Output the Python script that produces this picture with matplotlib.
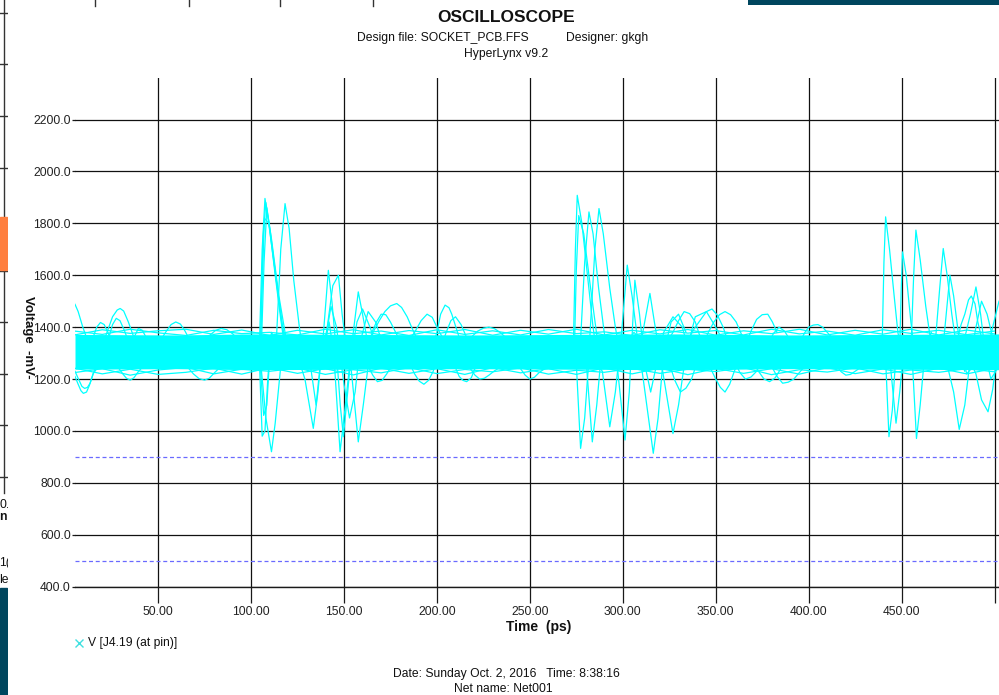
import matplotlib
matplotlib.use("Agg")
import matplotlib.pyplot as plt
from matplotlib.patches import Rectangle

plt.rcParams['font.family'] = ['Liberation Sans', 'DejaVu Sans']

# ---------------- data (time in ps, voltage in mV) ----------------
x_ticks = [50, 100, 150, 200, 250, 300, 350, 400, 450, 500]
x_tick_labels = ["50.00", "100.00", "150.00", "200.00", "250.00", "300.00",
                 "350.00", "400.00", "450.00", ""]
y_ticks = [400, 600, 800, 1000, 1200, 1400, 1600, 1800, 2000, 2200]
y_tick_labels = ["400.0", "600.0", "800.0", "1000.0", "1200.0", "1400.0",
                 "1600.0", "1800.0", "2000.0", "2200.0"]
threshold_levels = [900, 500]

# dense overlay of settled waveforms
band_t = [5.3, 60, 100, 160, 220, 270, 330, 390, 440, 502.4]
band_hi = [1372, 1370, 1374, 1372, 1370, 1372, 1374, 1370, 1372, 1374]
band_lo = [1238, 1240, 1236, 1238, 1240, 1238, 1236, 1240, 1238, 1236]

edge_t = [5, 20, 35, 50, 65, 80, 95, 110, 125, 140, 155, 170, 185, 200, 215, 230, 245,
          260, 275, 290, 305, 320, 335, 350, 365, 380, 395, 410, 425, 440, 455, 470, 485, 500]
edge_top_a = [1385, 1372, 1392, 1378, 1368, 1388, 1375, 1380, 1370, 1392, 1375, 1385, 1368,
              1390, 1372, 1386, 1370, 1391, 1375, 1382, 1368, 1390, 1377, 1387, 1370, 1392,
              1374, 1385, 1369, 1390, 1376, 1388, 1371, 1385]
edge_top_b = [1370, 1390, 1376, 1386, 1392, 1372, 1389, 1368, 1388, 1374, 1390, 1370, 1387,
              1375, 1391, 1369, 1388, 1373, 1392, 1370, 1388, 1374, 1391, 1369, 1386, 1375,
              1392, 1370, 1388, 1373, 1392, 1370, 1389, 1374]
edge_bot_a = [1225, 1240, 1215, 1235, 1245, 1220, 1238, 1230, 1242, 1218, 1236, 1224, 1244,
              1221, 1237, 1228, 1243, 1219, 1234, 1226, 1241, 1222, 1238, 1229, 1244, 1217,
              1236, 1227, 1243, 1220, 1235, 1226, 1240, 1228]
edge_bot_b = [1242, 1220, 1238, 1218, 1226, 1242, 1219, 1244, 1222, 1240, 1216, 1242, 1222,
              1240, 1218, 1244, 1224, 1240, 1218, 1243, 1220, 1242, 1217, 1241, 1222, 1240,
              1219, 1244, 1221, 1239, 1218, 1242, 1220, 1241]

start_traces = [
    [(5.3, 1488), (7, 1460), (9.5, 1400), (12, 1350), (15, 1320)],
    [(12, 1320), (15, 1360), (17, 1400), (19, 1418), (21, 1410), (23, 1380), (25, 1340), (28, 1300)],
    [(20, 1330), (23, 1390), (25.5, 1440), (28, 1466), (29.6, 1472), (31.5, 1462), (34, 1420),
     (36, 1380), (38, 1340)],
    [(21, 1300), (23.5, 1360), (25.5, 1410), (27.5, 1434), (29.5, 1425), (32, 1385), (34, 1345),
     (36, 1310)],
    [(35, 1320), (37, 1360), (39.4, 1395), (41.5, 1388), (44, 1355), (47, 1330), (51, 1345),
     (54, 1380), (57, 1410), (59.5, 1420), (62, 1412), (64.5, 1385), (67, 1350), (70, 1320)],
    [(5.3, 1210), (7, 1180), (8.5, 1155), (9.8, 1145), (11.5, 1150), (13, 1175), (15, 1220),
     (18, 1250)],
    [(5.3, 1230), (7.5, 1195), (9, 1172), (10.5, 1164), (12, 1168), (13.5, 1185), (16, 1240)],
    [(28, 1250), (31, 1220), (33, 1203), (35, 1196), (37, 1205), (39, 1225), (42, 1250)],
    [(66, 1245), (69, 1220), (72, 1202), (75, 1196), (77.5, 1203), (80, 1222), (84, 1250)],
    [(75, 1340), (78, 1370), (81, 1388), (84, 1395), (87, 1390), (90, 1375), (95, 1340)],
]

event1_traces = [
    [(100, 1310), (104.5, 1330), (106, 1700), (107.5, 1896), (110, 1780), (113, 1600),
     (116, 1430), (118, 1330), (121, 1250), (125, 1290)],
    [(100, 1280), (105, 1300), (106.5, 1750), (108, 1880), (110.5, 1760), (114, 1560),
     (117, 1400), (120, 1300)],
    [(102, 1290), (105.5, 1310), (107, 1650), (108.5, 1860), (111, 1740), (115, 1520),
     (119, 1350), (123, 1260)],
    [(101, 1300), (105, 1320), (106.2, 1600), (107.2, 1820), (109.5, 1800), (112.5, 1640),
     (116.5, 1420), (119.5, 1300)],
    [(110, 1300), (113.5, 1330), (116, 1700), (118.3, 1876), (120.5, 1780), (123, 1580),
     (126, 1400), (128, 1300), (131, 1250)],
    [(100, 1290), (104.5, 1270), (106, 980), (107.5, 1000), (109, 1200), (111, 1380),
     (113, 1350), (116, 1250)],
    [(103, 1260), (105.5, 1240), (108, 1050), (111, 920), (113, 1030), (116, 1250), (118, 1350)],
    [(101, 1280), (105, 1250), (106.8, 1060), (108.5, 1100), (110, 1280)],
    [(125, 1290), (129, 1200), (133.5, 1010), (136, 1150), (139, 1380), (141.6, 1619),
     (143.5, 1500), (146, 1300), (148, 1100), (149.7, 978), (152, 1150), (155, 1380),
     (157.7, 1536), (160, 1450), (163, 1330)],
    [(128, 1320), (132, 1250), (135, 1100), (137, 1240), (141, 1400), (144, 1560),
     (147, 1600), (149, 1450), (152, 1280), (154, 1230), (157.7, 958), (160.5, 1106),
     (163, 1250), (166, 1330)],
    [(130, 1280), (135, 1240), (139, 1300), (142, 1420), (144.5, 1300), (147.9, 920),
     (150, 1050), (153, 1250), (157, 1420), (160, 1470), (164, 1400), (168, 1320)],
    [(136, 1310), (140, 1350), (143, 1480), (146, 1400), (150, 1180), (153, 1050),
     (156, 1150), (159, 1350), (163, 1460), (167, 1420), (171, 1330)],
]

event1_tail_traces = [
    [(160, 1330), (163, 1350), (166, 1385), (169, 1425), (172, 1460), (175, 1482),
     (178.4, 1491), (181, 1476), (184, 1440), (187, 1390), (190, 1345), (193, 1315),
     (196, 1305), (198, 1330), (200, 1380), (202, 1450), (204.4, 1485), (206.5, 1475),
     (208, 1450), (210, 1405), (212, 1360), (216, 1320)],
    [(163, 1250), (165.5, 1215), (168, 1190), (170.5, 1195), (173, 1220), (176.5, 1260),
     (180, 1300), (184, 1340), (188, 1380), (191.5, 1425), (194.7, 1450), (197.5, 1438),
     (200, 1400), (203, 1360), (206, 1320), (209, 1260), (212, 1210), (214, 1195),
     (216, 1190), (218.5, 1205), (221, 1250)],
    [(165, 1380), (167.5, 1420), (170, 1450), (172.5, 1448), (175, 1420), (178.5, 1370),
     (182, 1320), (185, 1265), (188, 1220), (190.5, 1192), (193, 1180), (195.5, 1195),
     (198, 1230), (201.5, 1310), (205, 1380), (207.5, 1425), (210, 1440), (213, 1410),
     (216, 1360)],
]

quiet_traces = [
    [(215, 1330), (219, 1365), (222, 1385), (225, 1396), (228, 1400), (231, 1394),
     (234, 1380), (237, 1360), (240, 1340)],
    [(218, 1240), (220.5, 1215), (223, 1200), (225.5, 1203), (228, 1215), (231, 1232),
     (234, 1245)],
    [(245, 1240), (247.5, 1215), (250, 1200), (252.5, 1207), (255, 1225), (260, 1250)],
    [(395, 1340), (398, 1380), (400, 1400), (402.5, 1408), (405, 1410), (407.5, 1400),
     (410, 1380), (415, 1340)],
    [(380, 1250), (383, 1210), (386, 1184), (389, 1188), (392, 1200), (395, 1225), (398, 1250)],
    [(415, 1250), (417.5, 1228), (420, 1215), (422.5, 1218), (425, 1230), (430, 1255)],
]

event2_traces = [
    [(268, 1300), (273.4, 1320), (274.5, 1700), (275.5, 1908), (278, 1800), (281, 1600),
     (284, 1400), (287, 1250), (291, 1290)],
    [(272, 1290), (277, 1310), (279.5, 1650), (281.8, 1844), (284, 1760), (287, 1550),
     (290, 1380), (293, 1280)],
    [(276, 1300), (282, 1330), (285, 1700), (287.2, 1857), (289.5, 1760), (293, 1550),
     (296, 1400), (298.5, 1300), (302, 1250)],
    [(271, 1300), (274, 1320), (275, 1620), (276.3, 1830), (279, 1760), (282.5, 1560),
     (286, 1370), (289, 1280)],
    [(270, 1280), (275, 1260), (277.3, 933), (279.5, 1050), (282, 1300), (285, 1350)],
    [(276, 1290), (280.5, 1250), (283.6, 958), (286, 1100), (288.5, 1300)],
    [(284, 1280), (289, 1230), (293, 1016), (296, 1150), (299, 1350), (302.4, 1639),
     (305, 1520), (308, 1350), (311, 1200), (316.4, 914), (319, 1050), (322, 1300),
     (326, 1420), (330, 1450), (334, 1380)],
    [(290, 1300), (297, 1250), (301.2, 965), (303.5, 1150), (306.5, 1581), (309, 1450),
     (312, 1250), (315, 1150), (318, 1250), (322, 1380), (327, 1440), (332, 1400), (336, 1300)],
    [(300, 1320), (306, 1380), (310, 1350), (314.6, 1530), (317, 1420), (321, 1250),
     (327, 990), (330, 1100), (334, 1300), (339, 1440), (345, 1460), (350, 1400), (356, 1320)],
]

event2_tail_traces = [
    [(320, 1300), (323.5, 1340), (327, 1380), (330, 1425), (333, 1460), (336, 1452),
     (339, 1420), (341.5, 1365), (344, 1300), (347, 1245), (350, 1200), (352.5, 1168),
     (355, 1150), (357.5, 1180), (360, 1230), (363, 1280), (366, 1330), (369, 1385),
     (372, 1430), (375, 1448), (378, 1450), (380.5, 1420), (383, 1380)],
    [(325, 1260), (328, 1195), (331, 1150), (334, 1165), (337, 1200), (340, 1265),
     (343, 1330), (346, 1380), (349, 1420), (352, 1448), (355, 1460), (358, 1448),
     (361, 1420), (364, 1370), (367, 1320), (370, 1270), (373, 1230), (376, 1200),
     (379, 1190), (382, 1205), (385, 1240)],
    [(335, 1350), (338.5, 1395), (342, 1430), (345, 1460), (348, 1470), (351, 1445),
     (354, 1400), (357, 1335), (360, 1270), (363, 1225), (366, 1200), (369, 1208),
     (372, 1230), (375, 1280), (378, 1330), (381, 1375), (384, 1400), (387, 1385), (390, 1350)],
]

event3_traces = [
    [(435, 1300), (439.5, 1320), (440.5, 1650), (441.4, 1825), (443.5, 1700), (446, 1520),
     (448, 1380), (451, 1270), (455, 1300)],
    [(444, 1300), (449, 1320), (449.8, 1550), (450.5, 1690), (452.5, 1600), (455, 1420),
     (457, 1300), (461, 1240)],
    [(450, 1290), (455, 1310), (456.5, 1600), (457.7, 1774), (460, 1660), (463, 1480),
     (466, 1330), (470, 1250)],
    [(462, 1300), (468, 1330), (470.5, 1550), (472.4, 1703), (474.5, 1600), (477, 1450),
     (480, 1300), (484, 1230)],
    [(466, 1290), (472, 1300), (474, 1450), (476, 1600), (478, 1520), (481, 1350),
     (485, 1220), (490, 1260)],
    [(478, 1280), (483, 1330), (487, 1450), (490, 1555), (492.5, 1450), (495, 1300),
     (498, 1200), (502.4, 1250)],
    [(437, 1290), (441.5, 1260), (443.2, 978), (445, 1080), (447, 1300), (450, 1350)],
    [(440, 1280), (444, 1250), (447, 1030), (449, 1150), (451, 1300)],
    [(452, 1290), (456, 1240), (458, 971), (460, 1100), (462.5, 1300), (466, 1380)],
    [(470, 1300), (475, 1240), (478, 1150), (481, 1006), (484, 1100), (487, 1280),
     (490, 1400), (493, 1500), (496, 1450), (500, 1330), (502.4, 1300)],
    [(485, 1300), (490, 1220), (493, 1120), (496.5, 1074), (499, 1160), (502.4, 1350)],
    [(480, 1350), (482, 1410), (484, 1450), (486, 1505), (487.5, 1520), (489.5, 1490),
     (491, 1420), (495, 1300), (497, 1340), (499, 1400), (502.4, 1500)],
]

# ---------------- figure ----------------
W, H = 999, 695
fig = plt.figure(figsize=(W / 100, H / 100), dpi=100)
fig.patch.set_facecolor("white")


def fx(x):
    return x / W


def fy(y):
    return 1 - y / H


TRACE = "#00FFFF"
INK = "#1a1a1a"

ax = fig.add_axes([fx(75), fy(586.7), fx(999) - fx(75), fy(78) - fy(586.7)])
ax.set_xlim(5.3, 502.4)
ax.set_ylim(400, 2360)
for side in ("top", "right", "left"):
    ax.spines[side].set_visible(False)
ax.spines["bottom"].set_color(INK)
ax.spines["bottom"].set_linewidth(1.0)

ax.set_xticks(x_ticks)
ax.set_xticklabels(x_tick_labels)
ax.set_yticks(y_ticks)
ax.set_yticklabels(y_tick_labels)
ax.tick_params(axis="x", length=11.5, width=0.9, color=INK, pad=2.5,
               labelsize=8.7, labelcolor="#222222")
ax.tick_params(axis="y", length=2.2, width=0.9, color=INK, pad=0.8,
               labelsize=8.7, labelcolor="#222222")
ax.grid(True, color="#111111", linewidth=0.9)
ax.set_axisbelow(True)

for lvl in threshold_levels:
    ax.axhline(lvl, color="#6a6aff", linewidth=0.9, linestyle=(0, (3.2, 2.2)), zorder=1)

ax.fill_between(band_t, band_lo, band_hi, color=TRACE, linewidth=0, zorder=2)
for edge in (edge_top_a, edge_top_b, edge_bot_a, edge_bot_b):
    ax.plot(edge_t, edge, color=TRACE, linewidth=0.9, zorder=2)

for group in (start_traces, event1_traces, event1_tail_traces, quiet_traces,
              event2_traces, event2_tail_traces, event3_traces):
    for trace in group:
        t, v = zip(*trace)
        ax.plot(t, v, color=TRACE, linewidth=0.9, zorder=3)

# axis titles
fig.text(fx(539), fy(627), "Time  (ps)", ha="center", va="center",
         fontsize=10, fontweight="bold", color="#111111")
fig.text(fx(28), fy(337), "Voltage  -mV-", ha="center", va="center", rotation=270,
         fontsize=9.5, fontweight="bold", color="#111111")

# header
fig.text(fx(506), fy(18), "OSCILLOSCOPE", ha="center", va="center",
         fontsize=12.5, fontweight="bold", color="#111111")
fig.text(fx(357), fy(38), "Design file: SOCKET_PCB.FFS", ha="left", va="center",
         fontsize=8.7, color="#111111")
fig.text(fx(566), fy(38), "Designer: gkgh", ha="left", va="center",
         fontsize=8.7, color="#111111")
fig.text(fx(506), fy(54), "HyperLynx v9.2", ha="center", va="center",
         fontsize=8.7, color="#111111")

# legend entry
fig.lines.append(plt.Line2D([fx(79)], [fy(643)], marker="x", markersize=5.5,
                            markeredgewidth=1.0, color="#40e0e0",
                            transform=fig.transFigure, linestyle="none"))
fig.text(fx(88), fy(643), "V [J4.19 (at pin)]", ha="left", va="center",
         fontsize=8.7, color="#111111")

# footer
fig.text(fx(506), fy(674), "Date: Sunday Oct. 2, 2016   Time: 8:38:16", ha="center",
         va="center", fontsize=8.7, color="#111111")
fig.text(fx(503), fy(689), "Net name: Net001", ha="center", va="center",
         fontsize=8.7, color="#111111")

# neighbouring window edge on the left
side = fig.add_axes([0, 0, fx(8), 1])
side.set_xlim(0, 8)
side.set_ylim(H, 0)
side.axis("off")
side.plot([4, 4], [0, 493], color="#333333", linewidth=1.0)
for yy in [13, 64, 116, 168, 219, 271, 322, 374, 425, 477]:
    side.plot([0, 6.7], [yy, yy], color="#333333", linewidth=1.0)
side.add_patch(Rectangle((0, 217), 6.7, 53, color="#ff7f3f", zorder=3))
side.add_patch(Rectangle((0, 588), 6.7, 107, color="#00465e", zorder=3))
for yy, s, w in [(505, "0.", "normal"), (517, "n", "bold"), (563, "1(", "normal"),
                 (580, "le", "normal")]:
    side.text(-0.5, yy, s, ha="left", va="center", fontsize=8.7, fontweight=w,
              color="#111111", clip_on=True)

# neighbouring window edge on the top
fig.add_artist(Rectangle((fx(748), fy(5)), 1 - fx(748), 5 / H, transform=fig.transFigure,
                         color="#00465e", linewidth=0))
for xx in [95, 189, 280, 373]:
    fig.add_artist(plt.Line2D([fx(xx), fx(xx)], [fy(0), fy(6)], transform=fig.transFigure,
                              color="#333333", linewidth=1.0))

fig.savefig("out.png", dpi=100)
